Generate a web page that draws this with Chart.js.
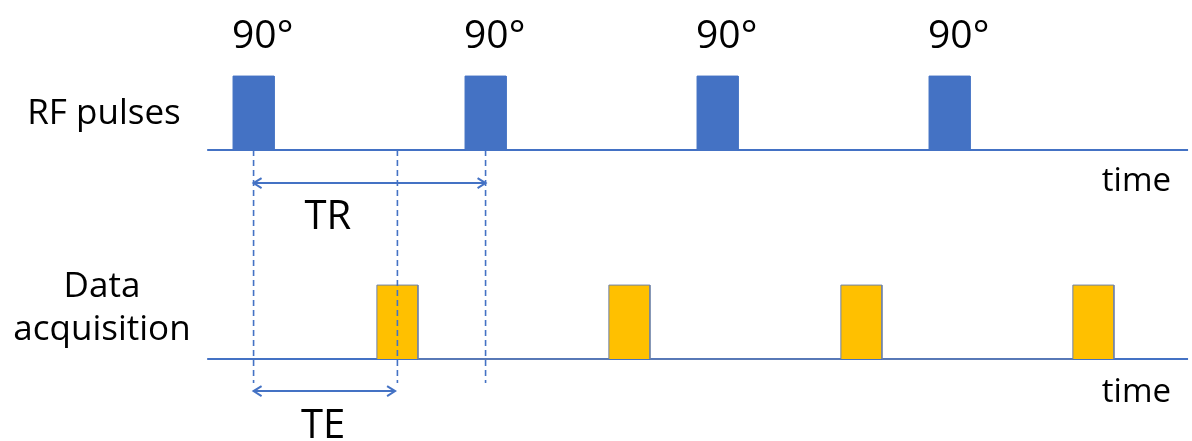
<!DOCTYPE html>
<html>
<head>
<meta charset="utf-8">
<script src="https://cdn.jsdelivr.net/npm/chart.js@4"></script>
<style>
  body { margin: 0; background: #fff; }
  #wrap { width: 1192px; height: 441px; position: relative; }
</style>
</head>
<body>
<div id="wrap"><canvas id="chart"></canvas></div>
<script>
// pulse timing, in arbitrary time units (TR = 10)
const rfTimes = [0, 10, 20, 30];
const acqTimes = [6.2, 16.2, 26.2, 36.2];
const flipAngles = ["90°", "90°", "90°", "90°"];
const TR = 10;
const TE = 6.2;
const pulseWidth = 1.77;
const rowLabels = [["RF pulses"], ["Data", "acquisition"]];
const axisLabel = "time";
const intervalLabels = ["TR", "TE"];

// layout (rows sit on y = 1 and y = 0)
const rfBase = 1;
const acqBase = 0;
const pulseHeight = 0.354;
const lineStart = -2.0;
const lineEnd = 40.28;
const dashBottom = -0.115;
const trArrowY = 0.842;
const teArrowY = -0.153;

const BLUE = "#4472c4";
const YELLOW = "#ffc000";
const FONT = "'Open Sans', 'Noto Sans', sans-serif";

function pulseTrain(times, base) {
  const pts = [];
  times.forEach((t) => {
    pts.push({ x: t - pulseWidth / 2, y: base });
    pts.push({ x: t - pulseWidth / 2, y: base + pulseHeight });
    pts.push({ x: t + pulseWidth / 2, y: base + pulseHeight });
    pts.push({ x: t + pulseWidth / 2, y: base });
  });
  return pts;
}

function dashedMarkers() {
  const pts = [];
  [0, TE, TR].forEach((t) => {
    pts.push({ x: t, y: rfBase });
    pts.push({ x: t, y: dashBottom });
    pts.push({ x: t, y: null });
  });
  return pts;
}

const datasets = [
  {
    label: "markers",
    data: dashedMarkers(),
    borderColor: BLUE,
    borderWidth: 1.6,
    borderDash: [6, 4],
    spanGaps: false,
    order: 0,
  },
  {
    label: "TR",
    data: [{ x: 0, y: trArrowY }, { x: TR, y: trArrowY }],
    borderColor: BLUE,
    borderWidth: 2,
    order: 1,
  },
  {
    label: "TE",
    data: [{ x: 0, y: teArrowY }, { x: TE - 0.1, y: teArrowY }],
    borderColor: BLUE,
    borderWidth: 2,
    order: 1,
  },
  {
    label: "RF pulses",
    data: pulseTrain(rfTimes, rfBase),
    borderColor: BLUE,
    borderWidth: 1,
    backgroundColor: BLUE,
    fill: { value: rfBase },
    order: 2,
  },
  {
    label: "Data acquisition",
    data: pulseTrain(acqTimes, acqBase),
    borderColor: "#6f82a8",
    borderWidth: 1,
    backgroundColor: YELLOW,
    fill: { value: acqBase },
    order: 2,
  },
  {
    label: "rf baseline",
    data: [{ x: lineStart, y: rfBase }, { x: lineEnd, y: rfBase }],
    borderColor: BLUE,
    borderWidth: 2,
    order: 3,
  },
  {
    label: "acq baseline",
    data: [{ x: lineStart, y: acqBase }, { x: lineEnd, y: acqBase }],
    borderColor: BLUE,
    borderWidth: 2,
    order: 3,
  },
];

function arrowHead(ctx, x, y, dir) {
  ctx.beginPath();
  ctx.moveTo(x - dir * 8, y - 5);
  ctx.lineTo(x, y);
  ctx.lineTo(x - dir * 8, y + 5);
  ctx.stroke();
}

const textPlugin = {
  id: "diagramText",
  afterDraw(chart) {
    const ctx = chart.ctx;
    const xs = chart.scales.x;
    const ys = chart.scales.y;
    const rfPx = ys.getPixelForValue(rfBase);
    const acqPx = ys.getPixelForValue(acqBase);
    ctx.save();
    ctx.fillStyle = "#000";
    ctx.textBaseline = "alphabetic";

    // flip angles above RF pulses
    ctx.font = "39px " + FONT;
    ctx.textAlign = "left";
    rfTimes.forEach((t, i) => {
      const x = xs.getPixelForValue(t - pulseWidth / 2);
      const y = ys.getPixelForValue(rfBase + pulseHeight) - 28;
      ctx.fillText(flipAngles[i], x - 1, y);
    });

    // row labels
    ctx.font = "35px " + FONT;
    ctx.textAlign = "center";
    ctx.fillText(rowLabels[0][0], 104, rfPx - 26);
    ctx.fillText(rowLabels[1][0], 102, acqPx - 62);
    ctx.fillText(rowLabels[1][1], 102, acqPx - 19);

    // time axis labels
    ctx.font = "33px " + FONT;
    ctx.textAlign = "right";
    ctx.fillText(axisLabel, 1171, rfPx + 41);
    ctx.fillText(axisLabel, 1171, acqPx + 43);

    // interval labels
    ctx.font = "40px " + FONT;
    ctx.textAlign = "center";
    ctx.fillText(intervalLabels[0], xs.getPixelForValue(3.2), rfPx + 79);
    ctx.fillText(intervalLabels[1], xs.getPixelForValue(3.0), acqPx + 79);

    // arrow heads
    ctx.strokeStyle = BLUE;
    ctx.lineWidth = 2;
    const trY = ys.getPixelForValue(trArrowY);
    arrowHead(ctx, xs.getPixelForValue(0), trY, -1);
    arrowHead(ctx, xs.getPixelForValue(TR), trY, 1);
    const teY = ys.getPixelForValue(teArrowY);
    arrowHead(ctx, xs.getPixelForValue(0), teY, -1);
    arrowHead(ctx, xs.getPixelForValue(TE - 0.1), teY, 1);
    ctx.restore();
  },
};

new Chart(document.getElementById("chart"), {
  type: "line",
  data: { datasets: datasets },
  options: {
    responsive: true,
    maintainAspectRatio: false,
    animation: false,
    layout: { padding: 0 },
    elements: {
      point: { radius: 0, hoverRadius: 0 },
      line: { tension: 0, fill: false, borderJoinStyle: "miter", borderCapStyle: "butt" },
    },
    plugins: {
      legend: { display: false },
      tooltip: { enabled: false },
    },
    scales: {
      x: { type: "linear", min: -10.93, max: 40.45, display: false },
      y: { type: "linear", min: -0.392, max: 1.718, display: false },
    },
  },
  plugins: [textPlugin],
});
</script>
</body>
</html>
